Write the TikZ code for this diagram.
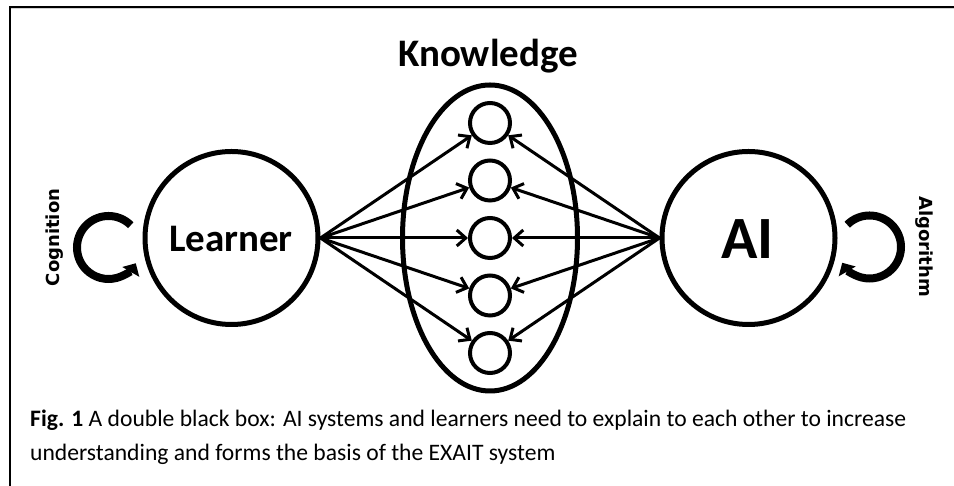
\documentclass[tikz,border=0pt]{standalone}
\usepackage{fontspec}
\setmainfont{Carlito}
\newfontfamily\loopfont{DejaVu Sans}
\usetikzlibrary{arrows.meta,shapes.geometric}

\begin{document}
\begin{tikzpicture}[x=1pt,y=1pt,
  agent/.style={circle,draw,line width=5pt,minimum size=173pt,inner sep=0pt},
  unit/.style={circle,draw,line width=4pt,minimum size=40pt,inner sep=0pt},
  pool/.style={ellipse,draw,line width=5pt,minimum width=175pt,minimum height=306pt,inner sep=0pt},
  link/.style={line width=3pt,-{Straight Barb[length=9pt,width=16pt,line width=3pt]}},
  cycle/.style={line width=8pt,-{Triangle[length=10pt,width=19pt]}},
  title/.style={inner sep=0pt,anchor=base,font=\bfseries\fontsize{39}{40}\selectfont},
  side/.style={inner sep=0pt,anchor=base,font=\loopfont\bfseries\fontsize{18}{20}\selectfont},
  capt/.style={inner sep=0pt,anchor=base west,font=\fontsize{23.6}{28}\selectfont},
]
\useasboundingbox (0,0) rectangle (954,486);

% frame along the top and left edges
\draw[gray!35,line width=1pt] (11,477.3) -- (954,477.3);
\draw[line width=2pt] (10,0) -- (10,479) -- (954,479);

% the knowledge pool and its units
\node[pool] (pool) at (490,248) {};
\foreach \i/\y in {1/363,2/305.5,3/248,4/190.5,5/133}
  \node[unit] (k\i) at (490,\y) {};

% the two agents
\node[agent] (learner) at (231.5,248) {};
\node[agent] (ai) at (748.5,248) {};
\node[title] (lt) at (231,234.3) {Learner};
\node[title,font=\bfseries\fontsize{60}{62}\selectfont] (at) at (747.5,227.7) {AI};
\node[title] (kt) at (488,419.3) {Knowledge};

% links from both agents into every unit
\foreach \i in {1,...,5} {
  \draw[link] (learner.east) -- (k\i);
  \draw[link] (ai.west) -- (k\i);
}

% self loops
\coordinate (cogc) at (108.5,238.5);
\coordinate (algc) at (869.5,239);
\draw[cycle] ([shift={(45:31.5)}]cogc) arc[start angle=45,end angle=330,radius=31.5];
\draw[cycle] ([shift={(135:31.5)}]algc) arc[start angle=135,end angle=-150,radius=31.5];
\node[side,rotate=90] (cog) at (59.7,248.5) {Cognition};
\node[side,rotate=-90] (alg) at (919.3,239.5) {Algorithm};

% caption
\node[capt] (cap1) at (30,59) {\textbf{Fig. 1} A double black box: AI systems and learners need to explain to each other to increase};
\node[capt] (cap2) at (30,25) {understanding and forms the basis of the EXAIT system};
\end{tikzpicture}
\end{document}
